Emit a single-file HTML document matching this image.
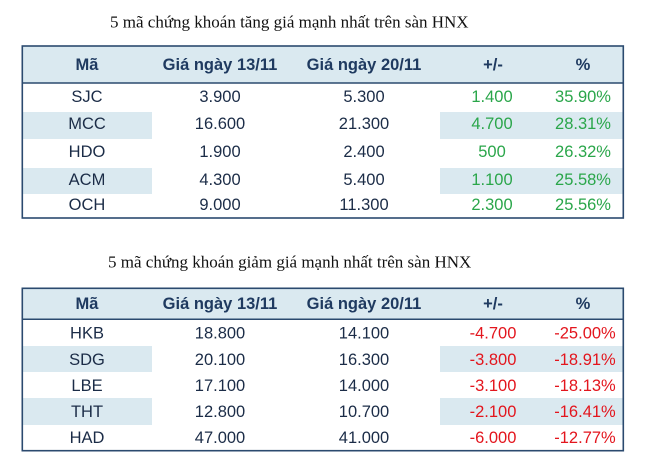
<!DOCTYPE html>
<html><head><meta charset="utf-8"><style>
html,body{margin:0;padding:0;background:#fff;}
svg{display:block;}
.t{font-family:"Liberation Serif","Noto Serif CJK SC",serif;font-size:17px;fill:#111;}
.h{font-family:"Liberation Sans",sans-serif;font-size:16.5px;font-weight:bold;fill:#1f3a60;}
.b{font-family:"Liberation Sans",sans-serif;font-size:16.5px;fill:#1b2c47;}
.g{font-family:"Liberation Sans",sans-serif;font-size:16.5px;fill:#2aa64a;}
.r{font-family:"Liberation Sans",sans-serif;font-size:16.5px;fill:#e3151d;}
</style></head><body>
<svg width="647" height="471" viewBox="0 0 647 471" xmlns="http://www.w3.org/2000/svg">
<rect width="647" height="471" fill="#fff"/>
<text class="t" x="110" y="27.7">5 mã chứng khoán tăng giá mạnh nhất trên sàn HNX</text>
<!-- table 1 -->
<rect x="22" y="46" width="601" height="37" fill="#dae9f0"/>
<rect x="22" y="112" width="130" height="27" fill="#dae9f0"/>
<rect x="440" y="112" width="183" height="27" fill="#dae9f0"/>
<rect x="22" y="168" width="130" height="26" fill="#dae9f0"/>
<rect x="440" y="168" width="183" height="26" fill="#dae9f0"/>
<line x1="22" y1="83" x2="623" y2="83" stroke="#2b4a6f" stroke-width="1.5"/>
<rect x="22.3" y="46" width="601" height="172" fill="none" stroke="#2b4a6f" stroke-width="1.6"/>
<g text-anchor="middle">
<text class="h" x="87" y="70">Mã</text>
<text class="h" x="220" y="70">Giá ngày 13/11</text>
<text class="h" x="364" y="70">Giá ngày 20/11</text>
<text class="h" x="493" y="70">+/-</text>
<text class="h" x="583" y="70">%</text>

<text class="b" x="87" y="102">SJC</text><text class="b" x="220" y="102">3.900</text><text class="b" x="364" y="102">5.300</text><text class="g" x="492" y="102">1.400</text><text class="g" x="583" y="102">35.90%</text>
<text class="b" x="87" y="129">MCC</text><text class="b" x="220" y="129">16.600</text><text class="b" x="364" y="129">21.300</text><text class="g" x="492" y="129">4.700</text><text class="g" x="583" y="129">28.31%</text>
<text class="b" x="87" y="157">HDO</text><text class="b" x="220" y="157">1.900</text><text class="b" x="364" y="157">2.400</text><text class="g" x="492" y="157">500</text><text class="g" x="583" y="157">26.32%</text>
<text class="b" x="87" y="185">ACM</text><text class="b" x="220" y="185">4.300</text><text class="b" x="364" y="185">5.400</text><text class="g" x="492" y="185">1.100</text><text class="g" x="583" y="185">25.58%</text>
<text class="b" x="87" y="210">OCH</text><text class="b" x="220" y="210">9.000</text><text class="b" x="364" y="210">11.300</text><text class="g" x="492" y="210">2.300</text><text class="g" x="583" y="210">25.56%</text>
</g>

<text class="t" x="108" y="267.3">5 mã chứng khoán giảm giá mạnh nhất trên sàn HNX</text>
<!-- table 2 -->
<rect x="22" y="288" width="601" height="31" fill="#dae9f0"/>
<rect x="22" y="346" width="130" height="26" fill="#dae9f0"/>
<rect x="440" y="346" width="183" height="26" fill="#dae9f0"/>
<rect x="22" y="398" width="130" height="27" fill="#dae9f0"/>
<rect x="440" y="398" width="183" height="27" fill="#dae9f0"/>
<line x1="22" y1="319.3" x2="623" y2="319.3" stroke="#2b4a6f" stroke-width="1.5"/>
<rect x="22.3" y="288.3" width="601" height="162.4" fill="none" stroke="#2b4a6f" stroke-width="1.6"/>
<g text-anchor="middle">
<text class="h" x="87" y="309">Mã</text>
<text class="h" x="220" y="309">Giá ngày 13/11</text>
<text class="h" x="364" y="309">Giá ngày 20/11</text>
<text class="h" x="493" y="309">+/-</text>
<text class="h" x="583" y="309">%</text>

<text class="b" x="87" y="338.5">HKB</text><text class="b" x="220" y="338.5">18.800</text><text class="b" x="364" y="338.5">14.100</text><text class="r" x="493" y="338.5">-4.700</text><text class="r" x="585" y="338.5">-25.00%</text>
<text class="b" x="87" y="365">SDG</text><text class="b" x="220" y="365">20.100</text><text class="b" x="364" y="365">16.300</text><text class="r" x="493" y="365">-3.800</text><text class="r" x="585" y="365">-18.91%</text>
<text class="b" x="87" y="391">LBE</text><text class="b" x="220" y="391">17.100</text><text class="b" x="364" y="391">14.000</text><text class="r" x="493" y="391">-3.100</text><text class="r" x="585" y="391">-18.13%</text>
<text class="b" x="87" y="417">THT</text><text class="b" x="220" y="417">12.800</text><text class="b" x="364" y="417">10.700</text><text class="r" x="493" y="417">-2.100</text><text class="r" x="585" y="417">-16.41%</text>
<text class="b" x="87" y="443">HAD</text><text class="b" x="220" y="443">47.000</text><text class="b" x="364" y="443">41.000</text><text class="r" x="493" y="443">-6.000</text><text class="r" x="585" y="443">-12.77%</text>
</g>
</svg>
</body></html>
